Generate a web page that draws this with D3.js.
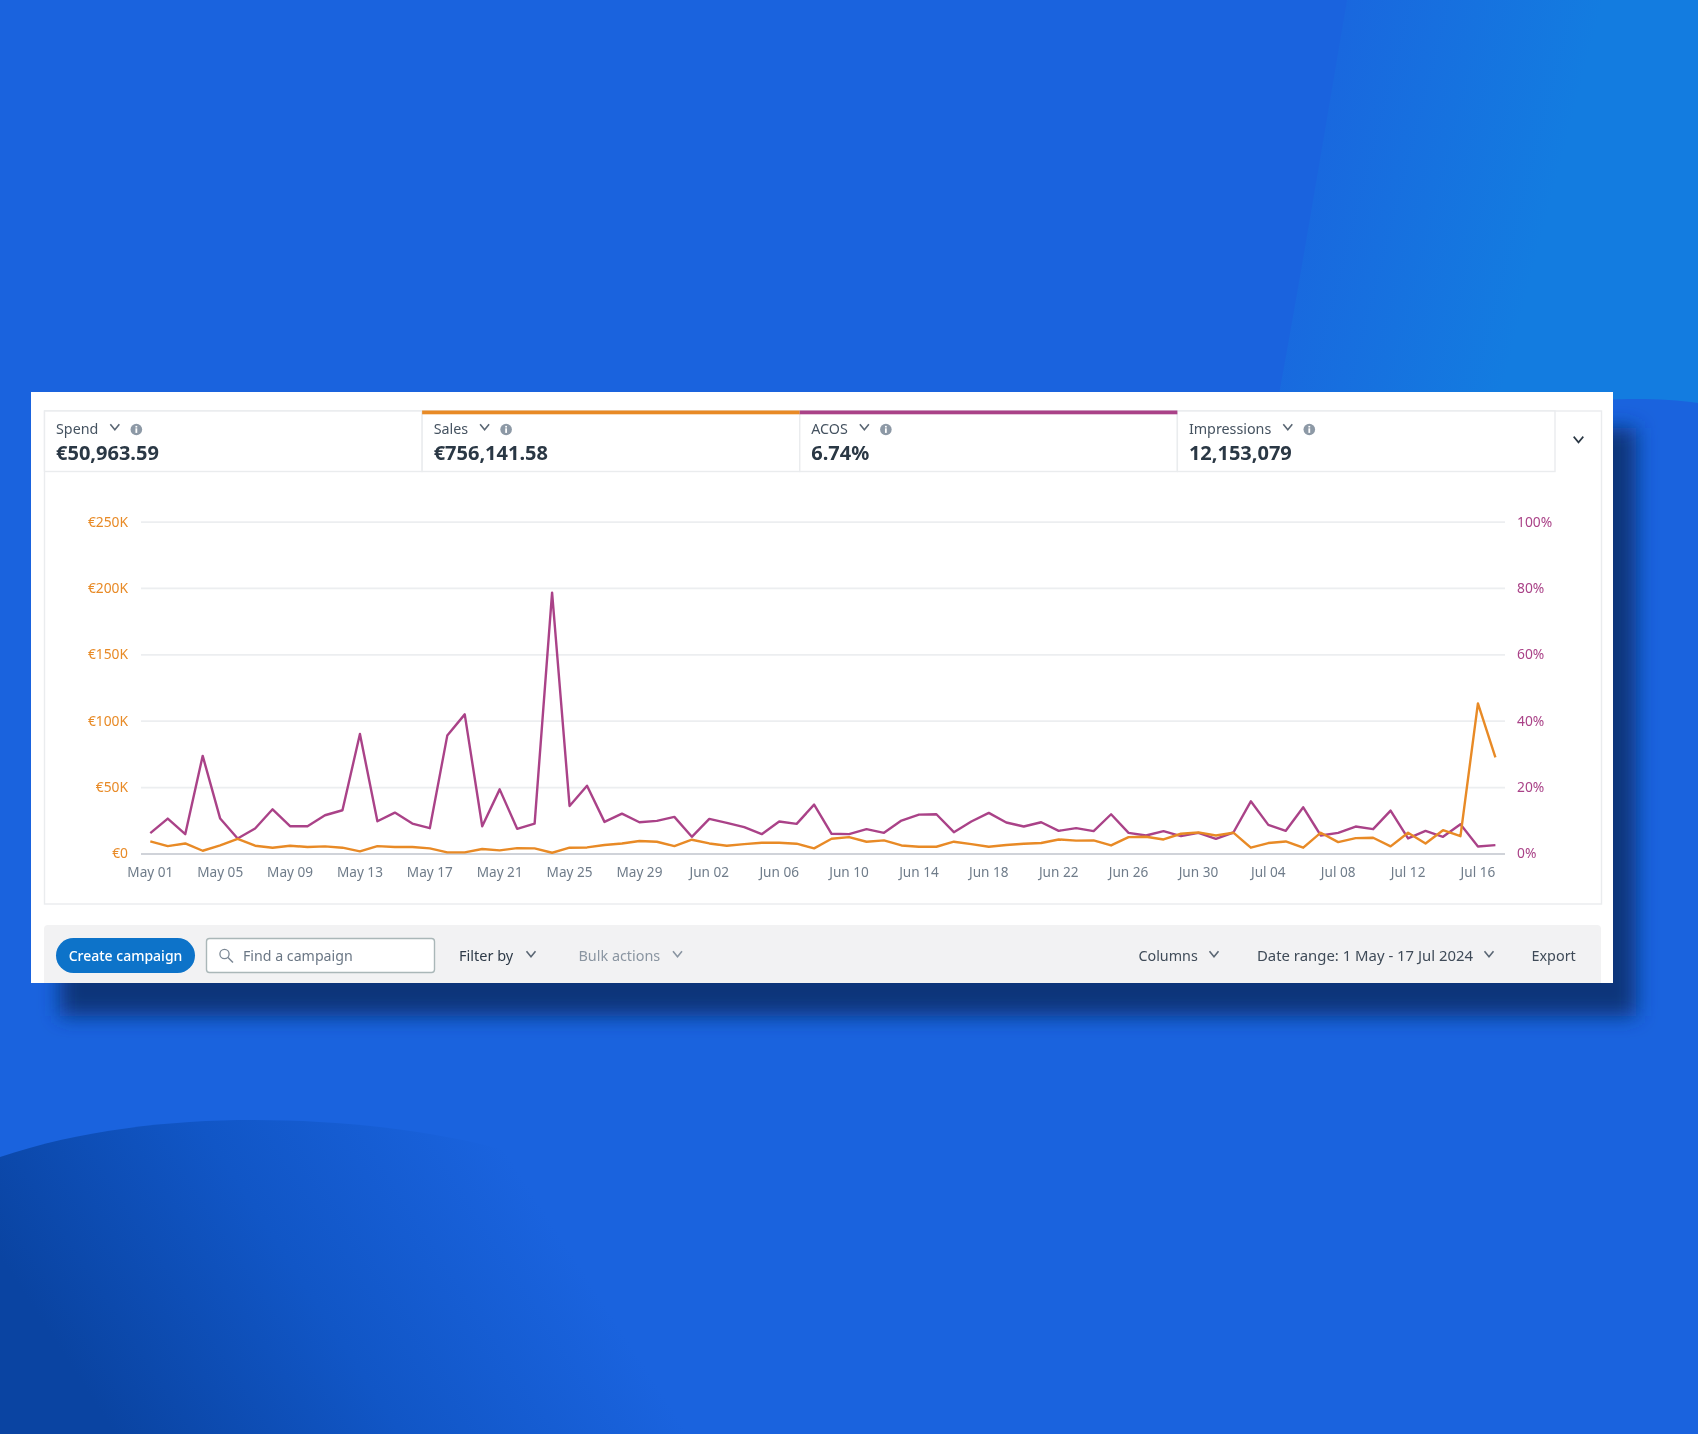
<!DOCTYPE html>
<html>
<head>
<meta charset="utf-8">
<script src="https://cdn.jsdelivr.net/npm/d3@7"></script>
<style>
  html, body { margin: 0; padding: 0; background: #1a63de; }
  svg { display: block; font-family: "Noto Sans", sans-serif; }
</style>
</head>
<body>
<svg id="page" width="1698" height="1434" viewBox="0 0 1698 1434"></svg>
<script>
const tabLabels = ["Spend", "Sales", "ACOS", "Impressions"];
const tabValues = ["€50,963.59", "€756,141.58", "6.74%", "12,153,079"];

// sales in thousands of euro, acos in percent, one value per day from 1 May
const salesValues = [
  9, 5.5, 7.5, 2, 6, 11, 5.8, 4.3, 5.8, 4.8, 5.3, 4.3, 1.5, 5.5, 4.8, 4.8, 3.8, 0.8, 0.8, 3.3,
  2.3, 4, 3.8, 0.5, 4.3, 4.5, 6.3, 7.5, 9.3, 8.8, 5.5, 10.3, 7.5, 5.8, 7, 8, 8, 7.3, 3.8, 11,
  12.3, 8.8, 9.8, 6, 5, 5, 8.8, 7, 5, 6.3, 7.3, 7.8, 10.5, 9.6, 9.8, 6, 12.3, 12.5, 10.5, 14.8,
  15.8, 13.5, 15.6, 4.3, 7.8, 9, 4.3, 15.6, 8.5, 11.5, 11.8, 5.3, 15.6, 7.5, 17.5, 13, 113, 72.3
];
const acosValues = [
  6.1, 10.5, 5.8, 29.4, 10.5, 4.5, 7.5, 13.3, 8.2, 8.2, 11.5, 13, 36, 9.7, 12.3, 9, 7.6, 35.5, 41.9, 8.2,
  19.3, 7.4, 9, 78.6, 14.3, 20.4, 9.5, 12, 9.4, 9.8, 11, 5, 10.4, 9.2, 7.9, 5.8, 9.6, 8.9, 14.7, 5.9,
  5.8, 7.3, 6.2, 9.9, 11.7, 11.8, 6.4, 9.6, 12.2, 9.3, 8.1, 9.4, 6.8, 7.6, 6.7, 11.8, 6.2, 5.4, 6.7, 5.2,
  6.2, 4.4, 6.3, 15.7, 8.6, 6.8, 13.9, 5.4, 6.2, 8.1, 7.3, 12.9, 4.5, 6.8, 5, 8.8, 2.1, 2.5
];
const salesTicks = [0, 50, 100, 150, 200, 250];
const acosTicks = [0, 20, 40, 60, 80, 100];

const days = d3.timeDay.range(new Date(2024, 4, 1), new Date(2024, 6, 18));
const tickDays = days.filter(function (d, i) { return i % 4 === 0; });

const ORANGE = "#e88a26";
const PURPLE = "#aa4388";
const GRID = "#eceef0";
const AXIS_GREY = "#6f7c8a";
const DARK = "#2b3744";

const svg = d3.select("#page");
const defs = svg.append("defs");

function linearGradient(id, x1, y1, x2, y2, stops) {
  const g = defs.append("linearGradient").attr("id", id)
    .attr("gradientUnits", "userSpaceOnUse")
    .attr("x1", x1).attr("y1", y1).attr("x2", x2).attr("y2", y2);
  stops.forEach(function (s) {
    g.append("stop").attr("offset", s[0]).attr("stop-color", s[1]);
  });
}

linearGradient("bgTop", 1300, 60, 1570, 130, [[0, "#1a65de"], [1, "#137ce0"]]);
linearGradient("bgWave", 115, 1434, 519, 1172, [[0, "#0a44a2"], [0.5, "#1156c6"], [1, "#1a63de"]]);
defs.append("filter").attr("id", "shadowBlur").attr("x", "-5%").attr("y", "-5%").attr("width", "110%").attr("height", "115%")
  .append("feGaussianBlur").attr("stdDeviation", 10);
defs.append("filter").attr("id", "soft").attr("x", "-1%").attr("y", "-1%").attr("width", "102%").attr("height", "102%")
  .append("feGaussianBlur").attr("stdDeviation", 0.5);

// background
svg.append("rect").attr("width", 1698).attr("height", 1434).attr("fill", "#1a63de");
svg.append("path").attr("fill", "url(#bgTop)")
  .attr("d", "M1347,0 C1325,130 1300,280 1278,400 L1600,400 C1640,398 1670,399 1698,403 L1698,0 Z");
svg.append("path").attr("fill", "url(#bgWave)")
  .attr("d", "M0,1157 C80,1130 170,1120 253,1120 C340,1120 430,1130 505,1150 L689,1434 L0,1434 Z");

// card and shadow
svg.append("rect").attr("x", 60).attr("y", 428).attr("width", 1576).attr("height", 588)
  .attr("fill", "#0e367a").attr("filter", "url(#shadowBlur)");
svg.append("rect").attr("x", 31).attr("y", 392).attr("width", 1582).attr("height", 591).attr("fill", "#fff");

const card = svg.append("g").attr("filter", "url(#soft)");

// chart frame
card.append("rect").attr("x", 44.5).attr("y", 411).attr("width", 1557).attr("height", 493)
  .attr("fill", "none").attr("stroke", "#eaecee").attr("stroke-width", 1.4);

// metric tabs
const tabX = d3.scaleBand().domain(tabLabels).range([44.5, 1555]);
const tabs = card.selectAll("g.tab").data(tabLabels).enter().append("g").attr("class", "tab")
  .attr("transform", function (d) { return "translate(" + tabX(d) + ",0)"; });

function chevron(parent, cx, cy, color, w) {
  const half = w || 4.5;
  parent.append("path")
    .attr("d", "M" + (cx - half) + "," + (cy - half * 0.6) + " L" + cx + "," + (cy + half * 0.6) + " L" + (cx + half) + "," + (cy - half * 0.6))
    .attr("fill", "none").attr("stroke", color).attr("stroke-width", 1.6);
}

function infoIcon(parent, cx, cy) {
  parent.append("circle").attr("cx", cx).attr("cy", cy).attr("r", 5.8).attr("fill", "#8d99a6");
  parent.append("rect").attr("x", cx - 0.9).attr("y", cy - 1.2).attr("width", 1.8).attr("height", 4.6).attr("fill", "#fff");
  parent.append("rect").attr("x", cx - 0.9).attr("y", cy - 3.6).attr("width", 1.8).attr("height", 1.6).attr("fill", "#fff");
}

tabs.append("rect").attr("y", 411).attr("width", tabX.bandwidth()).attr("height", 60.5)
  .attr("fill", "#fff").attr("stroke", "#eaecee").attr("stroke-width", 1.4);

tabs.each(function (d, i) {
  const tab = d3.select(this);
  const label = tab.append("text").attr("x", 11.5).attr("y", 433.5)
    .attr("font-size", 14.3).attr("fill", "#455260").text(d);
  tab.append("text").attr("x", 11.5).attr("y", 460)
    .attr("font-size", 20).attr("font-weight", 700).attr("fill", DARK).text(tabValues[i]);
  const end = 11.5 + label.node().getComputedTextLength();
  chevron(tab, end + 16.5, 427, "#5a6673");
  infoIcon(tab, end + 38, 429.5);
});

card.append("rect").attr("x", tabX("Sales")).attr("y", 410.5).attr("width", tabX.bandwidth()).attr("height", 3.8).attr("fill", ORANGE);
card.append("rect").attr("x", tabX("ACOS")).attr("y", 410.5).attr("width", tabX.bandwidth()).attr("height", 3.8).attr("fill", PURPLE);
chevron(card, 1578.5, 439.5, DARK, 4.8);

// scales
const x = d3.scaleTime().domain([days[0], days[days.length - 1]]).range([150.3, 1495.4]);
const ySales = d3.scaleLinear().domain([0, 250]).range([853.4, 521.6]);
const yAcos = d3.scaleLinear().domain([0, 100]).range([853.4, 521.6]);

// axes
const gridLeft = 141;
const gridRight = 1505;

const leftAxis = card.append("g").attr("transform", "translate(" + gridRight + ",0)")
  .call(d3.axisLeft(ySales).tickValues(salesTicks).tickSize(gridRight - gridLeft).tickPadding(13)
    .tickFormat(function (d) { return d === 0 ? "€0" : "€" + d + "K"; }));
leftAxis.select(".domain").remove();
leftAxis.selectAll("line").attr("stroke", GRID).attr("stroke-width", 1.8);
leftAxis.selectAll("line").filter(function (d) { return d === 0; }).attr("stroke", "#d0d3d9").attr("stroke-width", 2);
leftAxis.selectAll("text").attr("fill", ORANGE).attr("font-size", 13.8).attr("font-family", "Noto Sans");

const rightAxis = card.append("g").attr("transform", "translate(" + gridRight + ",0)")
  .call(d3.axisRight(yAcos).tickValues(acosTicks).tickSize(0).tickPadding(12)
    .tickFormat(function (d) { return d + "%"; }));
rightAxis.select(".domain").remove();
rightAxis.selectAll("text").attr("fill", PURPLE).attr("font-size", 13.8).attr("font-family", "Noto Sans");

const bottomAxis = card.append("g").attr("transform", "translate(0,853.4)")
  .call(d3.axisBottom(x).tickValues(tickDays).tickSize(0).tickPadding(14)
    .tickFormat(d3.timeFormat("%b %d")));
bottomAxis.select(".domain").remove();
bottomAxis.selectAll("text").attr("fill", AXIS_GREY).attr("font-size", 13.6).attr("font-family", "Noto Sans")
  .attr("dx", -0.5);

// lines
const acosLine = d3.line().x(function (d, i) { return x(days[i]); }).y(function (d) { return yAcos(d); });
const salesLine = d3.line().x(function (d, i) { return x(days[i]); }).y(function (d) { return ySales(d); });

card.append("path").datum(acosValues).attr("d", acosLine)
  .attr("fill", "none").attr("stroke", PURPLE).attr("stroke-width", 2.4).attr("stroke-linejoin", "round");
card.append("path").datum(salesValues).attr("d", salesLine)
  .attr("fill", "none").attr("stroke", ORANGE).attr("stroke-width", 2.4).attr("stroke-linejoin", "round");

// toolbar
card.append("path").attr("fill", "#f2f2f3")
  .attr("d", "M44,983 L44,929 Q44,925 48,925 L1597,925 Q1601,925 1601,929 L1601,983 Z");
card.append("rect").attr("x", 56).attr("y", 938).attr("width", 139).attr("height", 35).attr("rx", 17.5).attr("fill", "#0b73c9");
card.append("text").attr("x", 125.5).attr("y", 961).attr("text-anchor", "middle")
  .attr("font-size", 14).attr("font-weight", 500).attr("fill", "#fff").text("Create campaign");
card.append("rect").attr("x", 206.5).attr("y", 938.5).attr("width", 228).attr("height", 34).attr("rx", 3)
  .attr("fill", "#fff").attr("stroke", "#aab7b8").attr("stroke-width", 1.4);
card.append("circle").attr("cx", 224.5).attr("cy", 954).attr("r", 4.6).attr("fill", "none").attr("stroke", "#7b8794").attr("stroke-width", 1.3);
card.append("path").attr("d", "M228,957.5 L233,962.5").attr("stroke", "#7b8794").attr("stroke-width", 1.5);
card.append("text").attr("x", 243).attr("y", 961).attr("font-size", 14.2).attr("fill", "#6b7785").text("Find a campaign");

function toolItem(text, left, color, chevronX, size) {
  card.append("text").attr("x", left).attr("y", 961).attr("font-size", size || 14.2).attr("fill", color).text(text);
  if (chevronX) chevron(card, chevronX, 954, color === "#8a95a1" ? color : "#5a6673");
}
toolItem("Filter by", 459, "#2f3b48", 531, 14.5);
toolItem("Bulk actions", 578.5, "#8a95a1", 677.5, 14.4);
toolItem("Columns", 1138.5, "#3f4b58", 1214, 14.3);
toolItem("Date range: 1 May - 17 Jul 2024", 1257, "#3f4b58", 1489, 14.9);
toolItem("Export", 1531.5, "#3f4b58", null, 14.4);
</script>
</body>
</html>
